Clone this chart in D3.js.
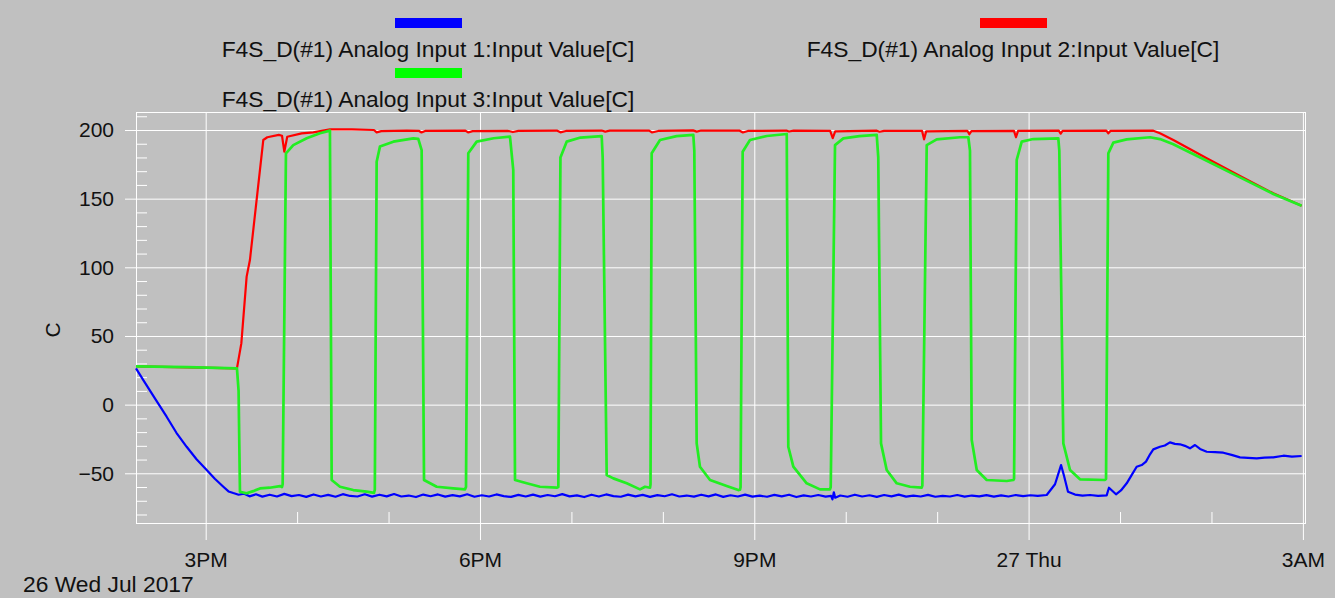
<!DOCTYPE html>
<html>
<head>
<meta charset="utf-8">
<script src="https://cdn.jsdelivr.net/npm/d3@7"></script>
<style>
  body { margin: 0; background: #c0c0c0; }
  svg { display: block; font-family: "Liberation Sans", Arial, sans-serif; }
</style>
</head>
<body>
<svg id="chart" width="1335" height="598"></svg>
<script>
// hours counted from midnight of 26 Jul 2017 (24+ = the 27th)
const seriesNames = [
  "F4S_D(#1) Analog Input 1:Input Value[C]",
  "F4S_D(#1) Analog Input 2:Input Value[C]",
  "F4S_D(#1) Analog Input 3:Input Value[C]"
]
const seriesColours = ["#0000ff", "#ff0000", "#22ee22"]

const yMajorTicks = [-50, 0, 50, 100, 150, 200]
const xMajorHours = [15, 18, 21, 24, 27]
const xMajorLabels = ["3PM", "6PM", "9PM", "27 Thu", "3AM"]
const xMinorHours = [16, 17, 19, 20, 22, 23, 25, 26]
const dateLabel = "26 Wed Jul 2017"

const input1 = [
  [14.238, 26.4], [14.318, 17.9], [14.45, 4.0], [14.573, -8.8], [14.68, -20.5], [14.792, -30.7],
  [14.90, -39.8], [15.011, -47.6], [15.10, -54.0], [15.193, -59.8], [15.25, -63.2], [15.302, -64.4],
  [15.36, -65.6], [15.42, -64.9], [15.48, -66.8], [15.55, -65.3], [15.62, -67.0], [15.70, -65.6],
  [15.78, -66.9], [15.86, -65.0], [15.94, -66.6], [16.02, -65.8], [16.10, -67.2], [16.18, -65.4],
  [16.26, -66.9], [16.34, -65.7], [16.42, -67.1], [16.50, -65.2], [16.58, -66.5], [16.66, -66.9],
  [16.74, -65.3], [16.82, -67.0], [16.90, -65.6], [16.98, -66.8], [17.06, -65.1], [17.14, -66.9],
  [17.22, -66.2], [17.30, -67.3], [17.38, -65.5], [17.46, -66.7], [17.54, -65.4], [17.62, -67.0],
  [17.70, -65.9], [17.78, -66.8], [17.86, -65.3], [17.94, -67.1], [18.02, -66.0], [18.10, -66.9],
  [18.18, -65.4], [18.26, -66.6], [18.34, -67.2], [18.42, -65.7], [18.50, -66.9], [18.58, -65.5],
  [18.66, -67.0], [18.74, -65.8], [18.82, -66.7], [18.90, -65.2], [18.98, -66.8], [19.06, -66.1],
  [19.14, -67.3], [19.22, -65.6], [19.30, -66.9], [19.38, -65.4], [19.46, -66.6], [19.54, -67.1],
  [19.62, -65.5], [19.70, -66.8], [19.78, -65.7], [19.86, -67.2], [19.94, -65.9], [20.02, -66.7],
  [20.10, -65.3], [20.18, -66.9], [20.26, -66.2], [20.34, -67.0], [20.42, -65.6], [20.50, -66.8],
  [20.58, -65.4], [20.66, -67.2], [20.74, -66.0], [20.82, -66.9], [20.90, -65.5], [20.98, -67.0],
  [21.06, -66.3], [21.14, -67.1], [21.22, -65.7], [21.30, -66.8], [21.38, -65.6], [21.46, -67.3],
  [21.54, -66.1], [21.62, -66.9], [21.70, -65.8], [21.78, -67.0], [21.84, -66.5], [21.855, -69.0],
  [21.87, -63.8], [21.885, -67.8], [21.94, -66.2], [22.02, -67.1], [22.10, -65.6], [22.18, -66.9],
  [22.26, -66.0], [22.34, -67.2], [22.42, -65.8], [22.50, -66.8], [22.58, -65.5], [22.66, -67.0],
  [22.74, -66.3], [22.82, -66.9], [22.90, -65.7], [22.98, -67.1], [23.06, -66.4], [23.14, -66.9],
  [23.22, -65.8], [23.30, -67.0], [23.38, -66.2], [23.46, -66.8], [23.54, -65.9], [23.62, -67.0],
  [23.70, -66.1], [23.78, -66.9], [23.86, -65.8], [23.94, -66.6], [24.02, -66.0], [24.10, -66.5],
  [24.198, -65.8], [24.289, -58.0], [24.355, -44.0], [24.388, -52.0], [24.431, -63.4], [24.508, -65.5],
  [24.59, -66.2], [24.672, -65.8], [24.76, -66.4], [24.854, -66.1], [24.879, -60.5], [24.956, -65.3],
  [25.01, -62.5], [25.073, -57.3], [25.13, -51.0], [25.182, -45.2], [25.237, -44.0], [25.284, -41.5],
  [25.33, -36.0], [25.364, -32.6], [25.437, -30.7], [25.49, -29.8], [25.546, -27.5], [25.60, -28.6],
  [25.656, -28.9], [25.71, -30.0], [25.765, -31.8], [25.820, -29.4], [25.875, -32.3], [25.948, -34.3],
  [26.04, -34.6], [26.130, -35.0], [26.22, -36.6], [26.312, -38.4], [26.40, -38.8], [26.495, -39.1],
  [26.58, -38.6], [26.676, -38.4], [26.787, -37.2], [26.88, -37.8], [26.986, -37.4]
]

const input2 = [
  [14.238, 27.8], [14.8, 27.2], [15.342, 26.4], [15.39, 44.6], [15.448, 93.2], [15.484, 105.3],
  [15.557, 149.0], [15.630, 192.7], [15.674, 194.7], [15.80, 196.4], [15.835, 195.8], [15.860, 184.2],
  [15.892, 195.1], [16.05, 197.5], [16.177, 198.3], [16.36, 200.5], [16.60, 200.5], [16.84, 200.0],
  [16.87, 198.3], [16.92, 199.2], [17.20, 199.6], [17.33, 199.4], [17.36, 198.2], [17.40, 199.3],
  [17.84, 199.6], [17.87, 198.2], [17.92, 199.2], [18.30, 199.4], [18.36, 198.5], [18.42, 199.4],
  [18.84, 199.6], [18.88, 198.3], [18.94, 199.3], [19.33, 199.6], [19.37, 198.8], [19.42, 199.5],
  [19.85, 199.6], [19.88, 198.2], [19.95, 199.3], [20.33, 199.7], [20.37, 198.8], [20.42, 199.6],
  [20.84, 199.5], [20.875, 198.2], [20.93, 199.3], [21.35, 199.6], [21.38, 198.9], [21.43, 199.5],
  [21.83, 199.4], [21.858, 194.0], [21.885, 199.0], [22.34, 199.5], [22.37, 198.7], [22.42, 199.4],
  [22.835, 199.3], [22.857, 193.2], [22.88, 199.0], [23.33, 199.4], [23.352, 196.9], [23.375, 199.2],
  [23.84, 199.4], [23.862, 194.7], [23.885, 199.3], [24.33, 199.5], [24.351, 197.3], [24.372, 199.4],
  [24.85, 199.6], [24.872, 197.6], [24.895, 199.3], [25.364, 199.5], [25.437, 197.6], [25.583, 192.7],
  [25.948, 179.4], [26.312, 166.5], [26.676, 153.9], [26.986, 144.9]
]

const input3 = [
  [14.238, 27.8], [14.8, 27.3], [15.342, 26.4], [15.36, 10.0], [15.375, -63.4], [15.448, -64.6],
  [15.52, -63.0], [15.594, -61.0], [15.70, -60.5], [15.813, -59.3], [15.835, -60.0],
  // pulse 1
  [15.842, -58.0], [15.878, 183.0], [15.958, 189.0], [16.105, 194.0], [16.250, 197.6], [16.359, 199.5],
  [16.378, -54.9], [16.469, -59.8], [16.614, -62.2], [16.761, -63.4], [16.841, -64.2],
  // pulse 2
  [16.85, -62.0], [16.870, 176.9], [16.906, 187.9], [17.052, 191.5], [17.271, 193.9], [17.325, 193.5],
  [17.362, 185.4], [17.388, -54.9], [17.527, -59.8], [17.708, -61.0], [17.836, -61.7],
  // pulse 3
  [17.847, -60.0], [17.872, 183.0], [17.964, 191.5], [18.15, 194.0], [18.328, 195.1], [18.364, 170.9],
  [18.383, -54.9], [18.511, -57.3], [18.656, -59.8], [18.839, -60.5],
  // pulse 4
  [18.857, -60.0], [18.88, 180.0], [18.948, 191.5], [19.10, 194.5], [19.331, 195.6], [19.342, 180.0],
  [19.386, -51.3], [19.458, -53.7], [19.605, -57.3], [19.75, -61.7], [19.805, -59.8], [19.86, -60.5],
  // pulse 5
  [19.865, -58.0], [19.878, 183.0], [19.969, 192.7], [20.15, 195.5], [20.333, 196.4], [20.344, 185.0],
  [20.370, -28.2], [20.406, -45.2], [20.516, -54.9], [20.698, -59.3], [20.825, -62.2], [20.844, -62.0],
  // pulse 6
  [20.85, -60.0], [20.873, 184.2], [20.953, 192.7], [21.136, 195.6], [21.355, 197.1], [21.372, -30.7],
  [21.427, -45.2], [21.573, -57.3], [21.719, -61.7], [21.828, -61.7],
  // pulse 7
  [21.836, -60.0], [21.883, 189.0], [21.974, 193.9], [22.15, 195.5], [22.339, 196.4], [22.356, 180.0],
  [22.386, -28.2], [22.448, -47.6], [22.558, -57.3], [22.703, -59.8], [22.831, -60.5],
  // pulse 8
  [22.838, -59.0], [22.886, 189.0], [22.995, 193.2], [23.25, 194.7], [23.341, 194.7], [23.359, 185.0],
  [23.378, -25.8], [23.433, -47.6], [23.542, -54.9], [23.761, -55.6], [23.833, -54.9],
  // pulse 9
  [23.841, -54.0], [23.870, 178.2], [23.925, 191.5], [24.052, 193.4], [24.325, 193.9], [24.336, 185.0],
  [24.380, -28.2], [24.453, -47.6], [24.562, -54.4], [24.836, -54.9],
  // last rise, then cooling
  [24.847, -54.0], [24.872, 183.0], [24.927, 190.8], [25.073, 193.2], [25.328, 194.7], [25.437, 193.4],
  [25.583, 189.6], [25.948, 177.6], [26.312, 165.5], [26.676, 153.4], [26.986, 144.9]
]

const series = [input1, input2, input3]

// layout
const margin = {left: 136, right: 1305, top: 112, bottom: 523}
const base = new Date(2017, 6, 26)
const toDate = h => new Date(base.getTime() + h * 3600e3)

const x = d3.scaleTime()
  .domain([toDate(14.238), toDate(27.023)])
  .range([margin.left, margin.right])
const y = d3.scaleLinear()
  .domain([-86.2, 213.1])
  .range([margin.bottom, margin.top])

const svg = d3.select("#chart")
svg.append("rect")
  .attr("width", 1335).attr("height", 598)
  .style("fill", "#c0c0c0")

const plotW = margin.right - margin.left
const plotH = margin.bottom - margin.top

// grid lines
svg.append("g")
  .attr("class", "gridY")
  .attr("transform", `translate(${margin.left},0)`)
  .call(d3.axisLeft(y).tickValues(yMajorTicks).tickSize(-plotW).tickFormat(""))
svg.append("g")
  .attr("class", "gridX")
  .attr("transform", `translate(0,${margin.bottom})`)
  .call(d3.axisBottom(x).tickValues(xMajorHours.map(toDate)).tickSize(-plotH).tickFormat(""))

// y axis: outward major ticks + labels, inward minor ticks
svg.append("g")
  .attr("class", "yAxis")
  .attr("transform", `translate(${margin.left},0)`)
  .call(d3.axisLeft(y).tickValues(yMajorTicks).tickSize(11).tickPadding(11))
svg.append("g")
  .attr("class", "yMinor")
  .attr("transform", `translate(${margin.left},0)`)
  .call(d3.axisRight(y).tickValues(d3.range(-80, 211, 10).filter(v => v % 50 != 0)).tickSize(11).tickFormat(""))

// x axis
svg.append("g")
  .attr("class", "xAxis")
  .attr("transform", `translate(0,${margin.bottom})`)
  .call(d3.axisBottom(x)
    .tickValues(xMajorHours.map(toDate))
    .tickSize(17).tickPadding(12)
    .tickFormat((d, i) => xMajorLabels[i]))
svg.append("g")
  .attr("class", "xMinor")
  .attr("transform", `translate(0,${margin.bottom})`)
  .call(d3.axisTop(x).tickValues(xMinorHours.map(toDate)).tickSize(11).tickFormat(""))

svg.selectAll(".domain").remove()
svg.selectAll(".tick line")
  .style("stroke", "#ffffff")
  .style("stroke-width", "1px")
svg.selectAll(".yAxis text, .xAxis text")
  .style("font-size", "21px")
  .style("fill", "#111")

// frame
svg.append("rect")
  .attr("x", margin.left + 0.5).attr("y", margin.top + 0.5)
  .attr("width", plotW).attr("height", plotH)
  .style("fill", "none")
  .style("stroke", "#ffffff")
  .style("stroke-width", "1px")

// axis titles
svg.append("text")
  .text("C")
  .attr("transform", "translate(60,330) rotate(-90)")
  .attr("text-anchor", "middle")
  .style("font-size", "21px")
  .style("fill", "#111")
svg.append("text")
  .text(dateLabel)
  .attr("x", 23).attr("y", 592)
  .style("font-size", "22.8px")
  .style("fill", "#111")

// lines
const line = d3.line()
  .x(d => x(toDate(d[0])))
  .y(d => y(d[1]))
svg.append("g")
  .attr("class", "lines")
  .selectAll("path")
  .data(series)
  .join("path")
  .attr("d", line)
  .style("fill", "none")
  .style("stroke", (d, i) => seriesColours[i])
  .style("stroke-width", (d, i) => i == 2 ? "2.7px" : "2.2px")
  .style("stroke-linejoin", "round")

// legend
const legendPos = [[428, 0], [1013, 0], [428, 1]]
const legend = svg.append("g")
  .attr("class", "legend")
  .selectAll("g")
  .data(seriesNames)
  .join("g")
  .attr("transform", (d, i) => `translate(${legendPos[i][0]},${legendPos[i][1] * 50})`)
legend.append("rect")
  .attr("x", -33).attr("y", 18)
  .attr("width", 67).attr("height", 10)
  .style("fill", (d, i) => seriesColours[i] == "#22ee22" ? "#00ff00" : seriesColours[i])
legend.append("text")
  .text(d => d)
  .attr("y", 57)
  .attr("text-anchor", "middle")
  .style("font-size", "22.8px")
  .style("fill", "#111")
</script>
</body>
</html>
